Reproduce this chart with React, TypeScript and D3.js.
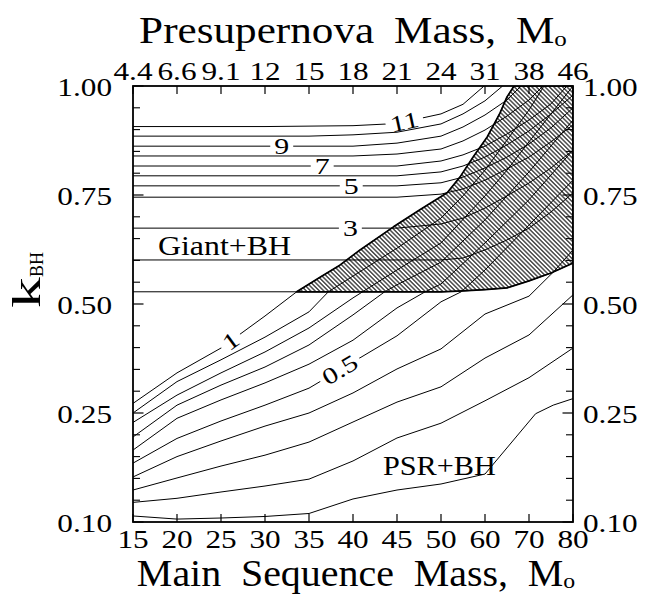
import React from 'react';
import * as d3 from 'd3';

// ---------------- data ----------------
const mainSeqMass = [15, 20, 25, 30, 35, 40, 45, 50, 60, 70, 80];
const presupernovaMass = ['4.4', '6.6', '9.1', '12', '15', '18', '21', '24', '31', '38', '46'];
const kMajor = [0.1, 0.25, 0.5, 0.75, 1.0];
const kMinor = [0.13, 0.16, 0.19, 0.22, 0.3, 0.35, 0.4, 0.45, 0.55, 0.6, 0.65, 0.7, 0.8, 0.85, 0.9, 0.95];

type Pt = [number, number];

// Giant+BH contours (levels 1..11): [main-sequence mass, k_BH]
const giant1: Pt[] = [[15, 0.528], [50, 0.528], [55, 0.530], [60, 0.533], [65, 0.537], [70, 0.553], [75, 0.571], [80, 0.594]];
const giant2: Pt[] = [[15, 0.601], [50, 0.601], [55, 0.6055], [60, 0.624], [65, 0.647], [70, 0.674], [75, 0.711], [80, 0.755]];
const giant3: Pt[] = [[15, 0.674], [45, 0.674], [50, 0.6835], [55, 0.697], [60, 0.72], [65, 0.748], [70, 0.7775], [75, 0.812], [80, 0.853]];
const giant4: Pt[] = [[15, 0.745], [45, 0.745], [50, 0.752], [55, 0.764], [60, 0.784], [65, 0.81], [70, 0.837], [75, 0.872], [80, 0.911]];
const giant5: Pt[] = [[15, 0.771], [45, 0.771], [50, 0.778], [55, 0.791], [60, 0.812], [65, 0.837], [70, 0.867], [75, 0.904], [80, 0.95]];
const giant6: Pt[] = [[15, 0.794], [45, 0.794], [50, 0.803], [55, 0.8165], [60, 0.837], [65, 0.865], [70, 0.897], [75, 0.936], [80, 0.979]];
const giant7: Pt[] = [[15, 0.8165], [45, 0.8165], [50, 0.828], [55, 0.842], [60, 0.862], [65, 0.89], [70, 0.922], [75, 0.959], [78.6, 1.0]];
const giant8: Pt[] = [[15, 0.8395], [40, 0.8395], [45, 0.844], [50, 0.8555], [55, 0.874], [60, 0.899], [65, 0.931], [70, 0.968], [73.2, 1.0]];
const giant9: Pt[] = [[15, 0.862], [40, 0.862], [45, 0.869], [50, 0.885], [55, 0.906], [60, 0.9335], [65, 0.968], [68.2, 1.0]];
const giant10: Pt[] = [[15, 0.885], [35, 0.885], [40, 0.888], [45, 0.894], [50, 0.913], [55, 0.936], [60, 0.966], [64, 1.0]];
const giant11: Pt[] = [[15, 0.907], [30, 0.907], [35, 0.908], [40, 0.909], [45, 0.914], [50, 0.936], [55, 0.958], [59.8, 1.0]];

// PSR+BH contours (levels 1.0 .. 0.1)
const psr10: Pt[] = [[15, 0.272], [20, 0.342], [25, 0.399], [30, 0.4725], [33.6, 0.528], [36.3, 0.562], [38.5, 0.589], [40.8, 0.624], [44.6, 0.677], [47.6, 0.716], [51.4, 0.755], [54.3, 0.791], [57.3, 0.837], [60.5, 0.883], [63.4, 0.938], [65, 0.975], [66.6, 1.0]];
const psr09: Pt[] = [[15, 0.25], [20, 0.322], [25, 0.372], [30, 0.424], [35, 0.482], [37.2, 0.528], [40, 0.564], [45, 0.628], [50, 0.697], [55, 0.748], [60, 0.807], [65, 0.876], [70, 0.945], [73.4, 1.0]];
const psr08: Pt[] = [[15, 0.237], [20, 0.291], [25, 0.342], [30, 0.39], [35, 0.445], [40, 0.514], [45, 0.578], [50, 0.64], [60, 0.748], [65, 0.807], [70, 0.872], [75, 0.936], [80, 1.0]];
const psr07: Pt[] = [[15, 0.217], [20, 0.268], [25, 0.314], [30, 0.3555], [35, 0.406], [40, 0.475], [43.6, 0.528], [45, 0.544], [50, 0.596], [60, 0.693], [70, 0.803], [80, 0.922]];
const psr06: Pt[] = [[15, 0.199], [20, 0.2427], [25, 0.28], [30, 0.319], [35, 0.362], [40, 0.417], [45, 0.491], [48.2, 0.528], [50, 0.546], [60, 0.64], [70, 0.739], [80, 0.853]];
const psr05: Pt[] = [[15, 0.181], [20, 0.215], [25, 0.239], [30, 0.268], [35, 0.307], [40, 0.367], [45, 0.427], [50, 0.505], [54.6, 0.528], [60, 0.578], [70, 0.681], [80, 0.784]];
const psr04: Pt[] = [[15, 0.162], [20, 0.19], [25, 0.2115], [30, 0.232], [35, 0.25], [40, 0.296], [45, 0.351], [50, 0.397], [60, 0.477], [70, 0.518], [75.5, 0.573], [80, 0.624]];
const psr03: Pt[] = [[15, 0.144], [20, 0.1606], [25, 0.177], [30, 0.192], [35, 0.21], [40, 0.2376], [45, 0.275], [50, 0.31], [60, 0.376], [70, 0.429], [80, 0.521]];
const psr02: Pt[] = [[15, 0.127], [20, 0.1326], [25, 0.1413], [30, 0.1495], [35, 0.159], [40, 0.184], [45, 0.2156], [50, 0.236], [60, 0.278], [70, 0.331], [80, 0.399]];
const psr01: Pt[] = [[15, 0.1083], [20, 0.104], [25, 0.1055], [30, 0.1076], [35, 0.1117], [40, 0.1317], [45, 0.144], [50, 0.1523], [60, 0.166], [71.5, 0.249], [75.5, 0.268], [80, 0.283]];

const giantContours = [giant1, giant2, giant3, giant4, giant5, giant6, giant7, giant8, giant9, giant10, giant11];
const psrContours = [psr10, psr09, psr08, psr07, psr06, psr05, psr04, psr03, psr02, psr01];

// contour labels: text, family, contour index, main-sequence mass of label
const contourLabels = [
  { text: '1', family: 'psr', index: 0, mass: 26.1 },
  { text: '0.5', family: 'psr', index: 5, mass: 38.5 },
  { text: '3', family: 'giant', index: 2, mass: 39.7 },
  { text: '5', family: 'giant', index: 4, mass: 39.8 },
  { text: '7', family: 'giant', index: 6, mass: 36.5 },
  { text: '9', family: 'giant', index: 8, mass: 31.9 },
  { text: '11', family: 'giant', index: 10, mass: 45.85 },
];

// region annotations: text, mass (left edge), k (baseline)
const regionLabels = [
  { text: 'Giant+BH', mass: 17.84, k: 0.612 },
  { text: 'PSR+BH', mass: 43.4, k: 0.165 },
];

// ---------------- drawing ----------------
const FONT = '"Liberation Serif", "Times New Roman", serif';

function T(props: any) {
  const { x, y, size, sx = 1, anchor = 'start', rot = 0, baseline, style, children } = props;
  return (
    <text
      transform={`translate(${x},${y}) rotate(${rot}) scale(${sx},1)`}
      fontSize={size}
      textAnchor={anchor}
      dominantBaseline={baseline}
      fontFamily={FONT}
      fill="#000"
      style={style}
    >
      {children}
    </text>
  );
}

export default function App() {
  const W = 650;
  const H = 596;
  const left = 133, right = 573, top = 86, bottom = 522;

  const x = d3
    .scaleLinear()
    .domain(mainSeqMass)
    .range(mainSeqMass.map((_, i) => left + (i * (right - left)) / (mainSeqMass.length - 1)));
  const y = d3
    .scaleLinear()
    .domain(kMajor)
    .range(kMajor.map((_, i) => bottom - (i * (bottom - top)) / (kMajor.length - 1)));

  const line = d3
    .line<Pt>()
    .x((d) => x(d[0]))
    .y((d) => y(d[1]));

  // hatched overlap region: above Giant level-1 and right of PSR level-1
  const tipIdx = psr10.findIndex((p) => p[1] >= giant1[0][1]);
  const tipMass = psr10[tipIdx][0];
  const hatchPts: Pt[] = [
    ...psr10.slice(tipIdx),
    [mainSeqMass[mainSeqMass.length - 1], kMajor[kMajor.length - 1]],
    ...giant1.filter((p) => p[0] > tipMass).reverse(),
  ];
  const hatchPath = line(hatchPts) + 'Z';

  const families: Record<string, Pt[][]> = { giant: giantContours, psr: psrContours };
  const labelSize = 23;
  const labelSx = 1.3;
  const labels = contourLabels.map((l) => {
    const pts = families[l.family][l.index];
    const ms = pts.map((p) => p[0]);
    const interp = d3.scaleLinear().domain(ms).range(pts.map((p) => p[1]));
    const k = interp(l.mass);
    let i = d3.bisectRight(ms, l.mass);
    i = Math.max(1, Math.min(pts.length - 1, i));
    const a = pts[i - 1];
    const b = pts[i];
    const ang = (Math.atan2(y(b[1]) - y(a[1]), x(b[0]) - x(a[0])) * 180) / Math.PI;
    const ems = l.text.split('').reduce((s, c) => s + (c === '.' ? 0.25 : 0.5), 0);
    const w = ems * labelSize * labelSx + 8;
    return { ...l, px: x(l.mass), py: y(k), ang, w };
  });

  const tickSize = 25;
  const tickSx = 1.25;
  const fmt = d3.format('.2f');
  const midX = (left + right) / 2;

  return (
    <svg width={W} height={H} style={{ position: 'absolute', left: 0, top: 0, background: '#fff' }}>
      <defs>
        <clipPath id="plotClip">
          <rect x={left} y={top} width={right - left} height={bottom - top} />
        </clipPath>
        <pattern id="hatch" patternUnits="userSpaceOnUse" width={3.1} height={3.1} patternTransform="rotate(-45)">
          <line x1={1.55} y1={-1} x2={1.55} y2={5} stroke="#000" strokeWidth={1.05} />
        </pattern>
      </defs>
      <rect x={0} y={0} width={W} height={H} fill="#fff" />

      <g clipPath="url(#plotClip)">
        <path d={hatchPath} fill="url(#hatch)" stroke="none" />
        {giantContours.map((c, i) => (
          <path key={'g' + i} d={line(c) || ''} fill="none" stroke="#000" strokeWidth={1} />
        ))}
        {psrContours.map((c, i) => (
          <path key={'p' + i} d={line(c) || ''} fill="none" stroke="#000" strokeWidth={1} />
        ))}
        <path d={hatchPath} fill="none" stroke="#000" strokeWidth={1.7} strokeLinejoin="round" />
      </g>

      {/* contour labels */}
      {labels.map((l, i) => (
        <g key={'l' + i} transform={`translate(${l.px},${l.py}) rotate(${l.ang})`}>
          <rect x={-l.w / 2} y={-3.5} width={l.w} height={7} fill="#fff" />
          <T x={0} y={0} size={labelSize} sx={labelSx} anchor="middle" baseline="central">
            {l.text}
          </T>
        </g>
      ))}

      {regionLabels.map((r, i) => (
        <T key={'r' + i} x={x(r.mass)} y={y(r.k)} size={i === 0 ? 27 : 28} sx={i === 0 ? 1.18 : 1.08}>
          {r.text}
        </T>
      ))}

      {/* frame */}
      <rect x={left} y={top} width={right - left} height={bottom - top} fill="none" stroke="#000" strokeWidth={1.8} />

      {/* x ticks */}
      {mainSeqMass.map((m, i) => (
        <g key={'xt' + i} stroke="#000" strokeWidth={1.2}>
          <line x1={x(m)} x2={x(m)} y1={bottom} y2={bottom - 8} />
          <line x1={x(m)} x2={x(m)} y1={top} y2={top + 8} />
        </g>
      ))}
      {/* y ticks */}
      {kMajor.map((k, i) => (
        <g key={'ytM' + i} stroke="#000" strokeWidth={1.2}>
          <line x1={left} x2={left + 10.5} y1={y(k)} y2={y(k)} />
          <line x1={right} x2={right - 10.5} y1={y(k)} y2={y(k)} />
        </g>
      ))}
      {kMinor.map((k, i) => (
        <g key={'ytm' + i} stroke="#000" strokeWidth={1.1}>
          <line x1={left} x2={left + 7} y1={y(k)} y2={y(k)} />
          <line x1={right} x2={right - 7} y1={y(k)} y2={y(k)} />
        </g>
      ))}

      {/* tick labels */}
      {mainSeqMass.map((m, i) => (
        <T key={'xl' + i} x={x(m)} y={bottom + 26} size={tickSize} sx={tickSx} anchor="middle">
          {String(m)}
        </T>
      ))}
      {mainSeqMass.map((m, i) => (
        <T key={'tl' + i} x={x(m)} y={top - 6} size={tickSize} sx={tickSx} anchor="middle">
          {presupernovaMass[i]}
        </T>
      ))}
      {kMajor.map((k, i) => (
        <g key={'yl' + i}>
          <T x={left - 21} y={y(k) + 9.5} size={tickSize} sx={tickSx} anchor="end">
            {fmt(k)}
          </T>
          <T x={right + 10} y={y(k) + 9.5} size={tickSize} sx={tickSx} anchor="start">
            {fmt(k)}
          </T>
        </g>
      ))}

      {/* axis titles */}
      <T x={midX} y={43} size={38} sx={1.137} anchor="middle" style={{ wordSpacing: '8px' }}>
        Presupernova Mass, M<tspan fontSize={22} dy={3}>o</tspan>
      </T>
      <T x={midX + 3} y={586} size={37} sx={1.08} anchor="middle" style={{ wordSpacing: '9px' }}>
        Main Sequence Mass, M<tspan fontSize={22} dy={2}>o</tspan>
      </T>
      <g transform={`translate(40,${(top + bottom) / 2 + 4}) rotate(-90)`}>
        <T x={0} y={0} size={41} sx={1.5}>
          k
        </T>
        <T x={31} y={3} size={18}>
          BH
        </T>
      </g>
    </svg>
  );
}
